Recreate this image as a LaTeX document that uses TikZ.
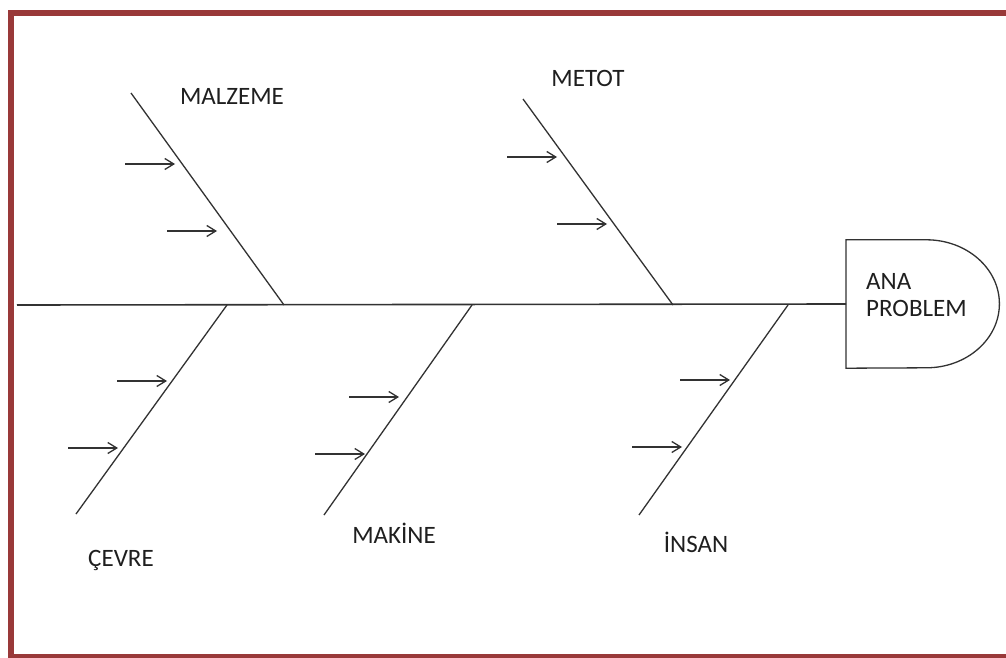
\documentclass[tikz,border=0pt]{standalone}
\usepackage{fontspec}
\setmainfont{Carlito}
\usetikzlibrary{arrows.meta}
\definecolor{framered}{RGB}{153,57,57}
\definecolor{ink}{RGB}{50,50,50}
\begin{document}
\begin{tikzpicture}[x=1pt,y=-1pt,
  bone/.style={draw=ink,line width=1.3pt},
  cause/.style={draw=ink,line width=1.3pt,-{Straight Barb[length=9pt,width=11pt]}},
  lbl/.style={font=\fontsize{25}{27}\selectfont,text=black!88,inner sep=0pt},
  ]
\useasboundingbox (0,0) rectangle (1006,658);
\fill[white] (0,0) rectangle (1006,658);
% frame
\draw[framered,line width=6pt] (11,658) -- (11,13) -- (1006,13);
\draw[framered,line width=6pt] (8,657) -- (1006,657);
% head
\node[minimum width=80pt,minimum height=128pt,inner sep=0pt,anchor=west] (head) at (846,304) {};
\draw[bone] (head.north west) -- (head.north east)
  arc[start angle=90,end angle=-90,x radius=73pt,y radius=64pt]
  -- (head.south west) -- cycle;
\node[lbl,align=left,anchor=base west] (ana) at (866,316) {ANA\\PROBLEM};
% spine
\coordinate (tail) at (17,305);
\draw[bone,line width=1.6pt] (tail) -- (head.west);
% bones
\coordinate (malT) at (131,93);  \coordinate (malB) at (284,305);
\coordinate (metT) at (523,99);  \coordinate (metB) at (673,305);
\coordinate (cevT) at (227,305); \coordinate (cevB) at (76,514);
\coordinate (makT) at (472,305); \coordinate (makB) at (324,515);
\coordinate (insT) at (788,305); \coordinate (insB) at (639,515);
\draw[bone] (malT) -- (malB);
\draw[bone] (metT) -- (metB);
\draw[bone] (cevT) -- (cevB);
\draw[bone] (makT) -- (makB);
\draw[bone] (insT) -- (insB);
% cause arrows
\coordinate (m1) at (125,164); \coordinate (m2) at (167,231);
\coordinate (t1) at (507,157); \coordinate (t2) at (557,224);
\coordinate (c1) at (117,381); \coordinate (c2) at (68,448);
\coordinate (k1) at (349,397); \coordinate (k2) at (315,454);
\coordinate (i1) at (680,380); \coordinate (i2) at (632,447);
\foreach \p in {m1,m2,t1,t2,c1,c2,k1,k2,i1,i2}
  \draw[cause] (\p) -- ++(50,0);
% labels
\node[lbl,anchor=base] (malzeme) at (232,105) {MALZEME};
\node[lbl,anchor=base] (metot) at (588,87) {METOT};
\node[lbl,anchor=base] (cevre) at (121,566) {ÇEVRE};
\node[lbl,anchor=base] (makine) at (394,543) {MAKİNE};
\node[lbl,anchor=base] (insan) at (696,552) {İNSAN};
\end{tikzpicture}
\end{document}
